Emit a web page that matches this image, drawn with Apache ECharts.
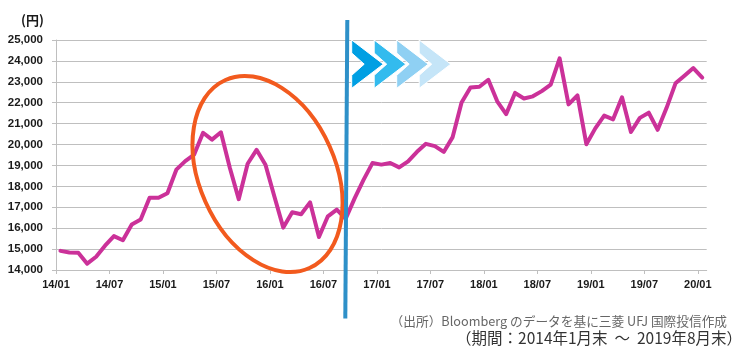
<!DOCTYPE html>
<html><head><meta charset="utf-8">
<script src="https://cdn.jsdelivr.net/npm/echarts@6/dist/echarts.min.js"></script>
<style>html,body{margin:0;padding:0;background:#fff}#c{width:740px;height:352px}</style>
</head><body><div id="c"></div>
<script>
// Monthly closes, 2014/01 .. 2020/01
const months = [];
for (let y = 2014; y <= 2020; y++) for (let m = 1; m <= 12; m++) { if (y === 2020 && m > 1) break; months.push(y + '-' + String(m).padStart(2, '0')); }
const values = [
  14915, 14841, 14828, 14304, 14632, 15162, 15621, 15425, 16174, 16414, 17460, 17451,
  17674, 18798, 19207, 19520, 20563, 20236, 20585, 18890, 17388, 19083, 19747, 19034,
  17518, 16027, 16759, 16666, 17235, 15576, 16569, 16887, 16450, 17425, 18308, 19114,
  19041, 19119, 18909, 19197, 19651, 20033, 19925, 19646, 20356, 22012, 22725, 22765,
  23098, 22068, 21454, 22468, 22202, 22305, 22554, 22865, 24120, 21920, 22351, 20015,
  20773, 21385, 21206, 22259, 20601, 21276, 21522, 20704, 21756, 22927, 23294, 23657,
  23205
];
const xTickLabels = ['14/01','14/07','15/01','15/07','16/01','16/07','17/01','17/07','18/01','18/07','19/01','19/07','20/01'];
const xTickPos = xTickLabels.map((_, i) => i * 6);

const chart = echarts.init(document.getElementById('c'));
const lblFont = '"Liberation Sans", Arial, sans-serif';

// chevrons
const chev = [];
const chevColors = ['#C5E5F8', '#8FD0F3', '#33BBEE', '#009FE3'];
const cx0 = 351.7, ctop = 40, ch = 48.3, cw = 31.6, cd = 12.5, ce = 13, cstep = 22.5;
for (let k = 3; k >= 0; k--) {
  const x = cx0 + k * cstep;
  const mid = ctop + ch / 2;
  chev.push({
    type: 'polygon', z: 100,
    shape: { points: [[x, ctop], [x + cw, mid], [x, ctop + ch], [x, ctop + ch - ce], [x + cd, mid], [x, ctop + ce]] },
    style: { fill: chevColors[3 - k], stroke: '#fff', lineWidth: 1 }
  });
}

chart.setOption({
  animation: false,
  grid: { left: 56, right: 33.3, top: 40, bottom: 82, containLabel: false },
  xAxis: {
    type: 'value', min: 0, max: months.length, interval: 6,
    axisLine: { show: true, lineStyle: { color: '#BFBFBF', width: 1 } },
    axisTick: { show: true, length: 4, lineStyle: { color: '#BFBFBF' }, customValues: xTickPos },
    axisLabel: {
      customValues: xTickPos, margin: 9,
      formatter: v => xTickLabels[Math.round(v / 6)] || '',
      fontFamily: lblFont, fontWeight: 'bold', fontSize: 11, color: '#1a1a1a'
    },
    splitLine: { show: false }
  },
  yAxis: {
    type: 'value', min: 14000, max: 25000, interval: 1000,
    axisLine: { show: true, lineStyle: { color: '#BFBFBF', width: 1 } },
    axisTick: { show: true, length: 4, lineStyle: { color: '#BFBFBF' } },
    axisLabel: {
      margin: 13, fontFamily: lblFont, fontWeight: 'bold', fontSize: 11.5, color: '#1a1a1a',
      formatter: v => v.toLocaleString('en-US')
    },
    splitLine: { show: true, lineStyle: { color: '#BFBFBF', width: 1 } }
  },
  series: [{
    type: 'line', showSymbol: false, symbol: 'none',
    data: values.map((v, i) => [i + 0.5, v]),
    lineStyle: { color: '#CB3199', width: 4, join: 'round', cap: 'round' },
    z: 5
  }],
  graphic: [
    { type: 'text', left: 21, top: 14, style: { text: '(円)', font: 'bold 13px "Noto Sans CJK JP", sans-serif', fill: '#1a1a1a' } },
    { type: 'ellipse', x: 267.5, y: 174, rotation: 0.42, z: 90,
      shape: { cx: 0, cy: 0, rx: 68, ry: 103 },
      style: { fill: 'none', stroke: '#F25A1E', lineWidth: 4 } },
    { type: 'line', z: 95, shape: { x1: 347.3, y1: 20, x2: 345.3, y2: 318.5 },
      style: { stroke: '#2E90C8', lineWidth: 4 } },
    ...chev,
    { type: 'text', right: 13, top: 315, style: { text: '（出所）Bloomberg のデータを基に三菱 UFJ 国際投信作成', font: '12.7px "Noto Sans CJK JP", sans-serif', fill: '#666' } },
    { type: 'text', right: -2, top: 330, style: { text: '（期間：2014年1月末  ～  2019年8月末）', font: '15.5px "Noto Sans CJK JP", sans-serif', fill: '#333' } }
  ]
});
</script></body></html>
